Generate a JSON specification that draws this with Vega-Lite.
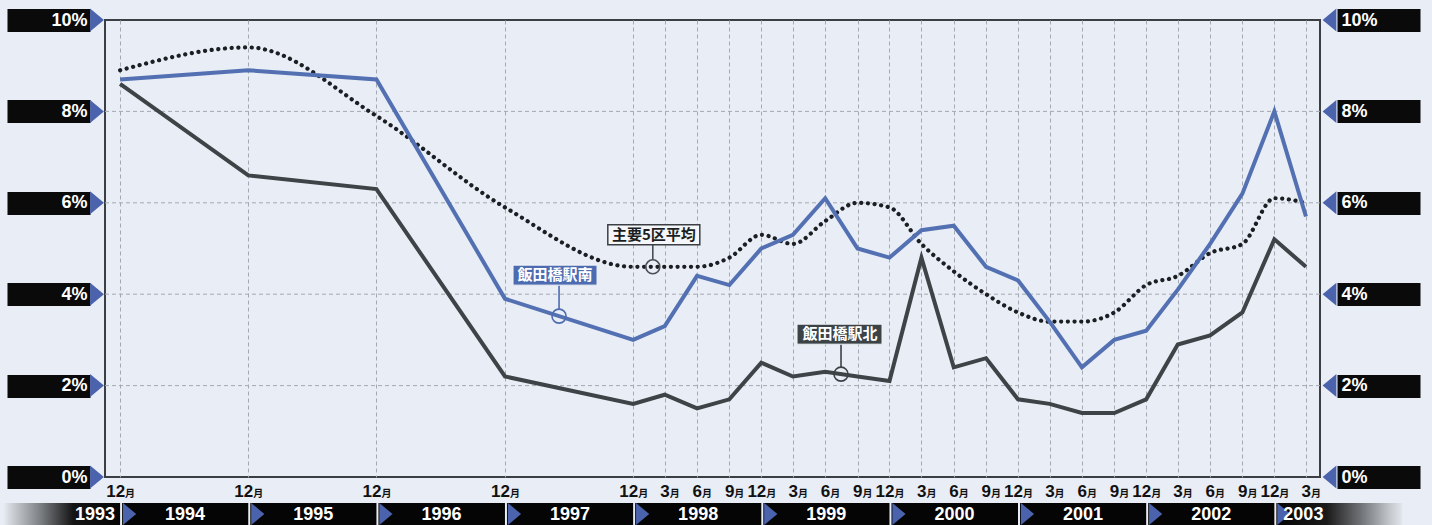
{
  "$schema": "https://vega.github.io/schema/vega-lite/v6.json",
  "width": 1215,
  "height": 457,
  "autosize": {"type": "none"},
  "padding": {"left": 105, "top": 20, "right": 112, "bottom": 48},
  "background": "#e9edf5",
  "config": {
    "font": "Liberation Sans",
    "view": {"stroke": "#3b3f44", "strokeWidth": 2}
  },
  "datasets": {
    "vacancy": [
      {"date": "1993-12-01", "m": 12, "south": 8.7, "north": 8.6, "avg5": 8.9},
      {"date": "1994-12-01", "m": 12, "south": 8.9, "north": 6.6, "avg5": 9.4},
      {"date": "1995-12-01", "m": 12, "south": 8.7, "north": 6.3, "avg5": 7.9},
      {"date": "1996-12-01", "m": 12, "south": 3.9, "north": 2.2, "avg5": 5.9},
      {"date": "1997-12-01", "m": 12, "south": 3.0, "north": 1.6, "avg5": 4.6},
      {"date": "1998-03-01", "m": 3, "south": 3.3, "north": 1.8, "avg5": 4.6},
      {"date": "1998-06-01", "m": 6, "south": 4.4, "north": 1.5, "avg5": 4.6},
      {"date": "1998-09-01", "m": 9, "south": 4.2, "north": 1.7, "avg5": 4.8},
      {"date": "1998-12-01", "m": 12, "south": 5.0, "north": 2.5, "avg5": 5.3},
      {"date": "1999-03-01", "m": 3, "south": 5.3, "north": 2.2, "avg5": 5.1},
      {"date": "1999-06-01", "m": 6, "south": 6.1, "north": 2.3, "avg5": 5.6},
      {"date": "1999-09-01", "m": 9, "south": 5.0, "north": 2.2, "avg5": 6.0},
      {"date": "1999-12-01", "m": 12, "south": 4.8, "north": 2.1, "avg5": 5.9},
      {"date": "2000-03-01", "m": 3, "south": 5.4, "north": 4.8, "avg5": 5.1},
      {"date": "2000-06-01", "m": 6, "south": 5.5, "north": 2.4, "avg5": 4.5},
      {"date": "2000-09-01", "m": 9, "south": 4.6, "north": 2.6, "avg5": 4.0},
      {"date": "2000-12-01", "m": 12, "south": 4.3, "north": 1.7, "avg5": 3.6},
      {"date": "2001-03-01", "m": 3, "south": 3.4, "north": 1.6, "avg5": 3.4},
      {"date": "2001-06-01", "m": 6, "south": 2.4, "north": 1.4, "avg5": 3.4},
      {"date": "2001-09-01", "m": 9, "south": 3.0, "north": 1.4, "avg5": 3.6},
      {"date": "2001-12-01", "m": 12, "south": 3.2, "north": 1.7, "avg5": 4.2},
      {"date": "2002-03-01", "m": 3, "south": 4.1, "north": 2.9, "avg5": 4.4},
      {"date": "2002-06-01", "m": 6, "south": 5.1, "north": 3.1, "avg5": 4.9},
      {"date": "2002-09-01", "m": 9, "south": 6.2, "north": 3.6, "avg5": 5.1},
      {"date": "2002-12-01", "m": 12, "south": 8.0, "north": 5.2, "avg5": 6.1},
      {"date": "2003-03-01", "m": 3, "south": 5.7, "north": 4.6, "avg5": 6.0}
    ],
    "ticks": [{"v": 0}, {"v": 2}, {"v": 4}, {"v": 6}, {"v": 8}, {"v": 10}],
    "years": [
      {"year": "1993", "start": "1993-01-01", "end": "1993-12-01"},
      {"year": "1994", "start": "1993-12-01", "end": "1994-12-01"},
      {"year": "1995", "start": "1994-12-01", "end": "1995-12-01"},
      {"year": "1996", "start": "1995-12-01", "end": "1996-12-01"},
      {"year": "1997", "start": "1996-12-01", "end": "1997-12-01"},
      {"year": "1998", "start": "1997-12-01", "end": "1998-12-01"},
      {"year": "1999", "start": "1998-12-01", "end": "1999-12-01"},
      {"year": "2000", "start": "1999-12-01", "end": "2000-12-01"},
      {"year": "2001", "start": "2000-12-01", "end": "2001-12-01"},
      {"year": "2002", "start": "2001-12-01", "end": "2002-12-01"},
      {"year": "2003", "start": "2002-12-01", "end": "2003-12-01"}
    ],
    "callouts": [
      {"label": "飯田橋駅南", "date": "1997-05-04", "value": 3.52},
      {"label": "主要5区平均", "date": "1998-01-26", "value": 4.6},
      {"label": "飯田橋駅北", "date": "1999-07-16", "value": 2.25}
    ]
  },
  "resolve": {"axis": {"y": "independent"}},
  "layer": [
    {
      "data": {"name": "ticks"},
      "transform": [{"filter": "datum.v > 0 && datum.v < 10"}],
      "mark": {"type": "rule", "color": "#a4a9b2", "strokeWidth": 1, "strokeDash": [4, 3]},
      "encoding": {
        "y": {"field": "v", "type": "quantitative", "scale": {"domain": [0, 10], "nice": false, "zero": true}, "axis": null}
      }
    },
    {
      "data": {"name": "vacancy"},
      "mark": {"type": "line", "color": "#1b1f23", "strokeWidth": 4.2, "strokeDash": [0.1, 6.6], "strokeCap": "round", "interpolate": "monotone"},
      "encoding": {
        "x": {
          "field": "date", "type": "temporal",
          "scale": {"type": "utc", "domain": [{"year": 1993, "month": 10, "date": 19, "utc": true}, {"year": 2003, "month": 4, "date": 10, "utc": true}]},
          "axis": {
            "title": null, "labels": false, "ticks": false, "domain": false,
            "grid": true, "gridColor": "#a4a9b2", "gridDash": [4, 3], "gridWidth": 1,
            "values": [
              {"year": 1993, "month": 12, "date": 1, "utc": true},
              {"year": 1994, "month": 12, "date": 1, "utc": true},
              {"year": 1995, "month": 12, "date": 1, "utc": true},
              {"year": 1996, "month": 12, "date": 1, "utc": true},
              {"year": 1997, "month": 12, "date": 1, "utc": true},
              {"year": 1998, "month": 3, "date": 1, "utc": true},
              {"year": 1998, "month": 6, "date": 1, "utc": true},
              {"year": 1998, "month": 9, "date": 1, "utc": true},
              {"year": 1998, "month": 12, "date": 1, "utc": true},
              {"year": 1999, "month": 3, "date": 1, "utc": true},
              {"year": 1999, "month": 6, "date": 1, "utc": true},
              {"year": 1999, "month": 9, "date": 1, "utc": true},
              {"year": 1999, "month": 12, "date": 1, "utc": true},
              {"year": 2000, "month": 3, "date": 1, "utc": true},
              {"year": 2000, "month": 6, "date": 1, "utc": true},
              {"year": 2000, "month": 9, "date": 1, "utc": true},
              {"year": 2000, "month": 12, "date": 1, "utc": true},
              {"year": 2001, "month": 3, "date": 1, "utc": true},
              {"year": 2001, "month": 6, "date": 1, "utc": true},
              {"year": 2001, "month": 9, "date": 1, "utc": true},
              {"year": 2001, "month": 12, "date": 1, "utc": true},
              {"year": 2002, "month": 3, "date": 1, "utc": true},
              {"year": 2002, "month": 6, "date": 1, "utc": true},
              {"year": 2002, "month": 9, "date": 1, "utc": true},
              {"year": 2002, "month": 12, "date": 1, "utc": true},
              {"year": 2003, "month": 3, "date": 1, "utc": true}
            ]
          }
        },
        "y": {"field": "avg5", "type": "quantitative", "axis": null}
      }
    },
    {
      "data": {"name": "vacancy"},
      "mark": {"type": "line", "color": "#3d4346", "strokeWidth": 4, "strokeJoin": "miter"},
      "encoding": {
        "x": {"field": "date", "type": "temporal"},
        "y": {"field": "north", "type": "quantitative", "axis": null}
      }
    },
    {
      "data": {"name": "vacancy"},
      "mark": {"type": "line", "color": "#5270b2", "strokeWidth": 4, "strokeJoin": "miter"},
      "encoding": {
        "x": {"field": "date", "type": "temporal"},
        "y": {"field": "south", "type": "quantitative", "axis": null}
      }
    },
    {
      "data": {"name": "ticks"},
      "mark": {"type": "point", "shape": "M-0.6,-1L0.6,0L-0.6,1Z", "size": 529, "filled": true, "opacity": 1, "color": "#4b63ad", "xOffset": -8},
      "encoding": {
        "x": {"datum": {"year": 1993, "month": 10, "date": 19, "utc": true}, "type": "temporal"},
        "y": {
          "field": "v", "type": "quantitative",
          "axis": {
            "orient": "left", "values": [0, 2, 4, 6, 8, 10], "offset": 15, "title": null,
            "domain": false, "grid": false, "ticks": true, "tickSize": 83, "tickWidth": 23, "tickColor": "#0a0a0a",
            "labelColor": "#ffffff", "labelFont": "Liberation Sans", "labelFontWeight": "bold", "labelFontSize": 18,
            "labelPadding": -80, "labelBaseline": "middle", "labelExpr": "datum.value + '%'"
          }
        }
      }
    },
    {
      "data": {"name": "ticks"},
      "mark": {"type": "point", "shape": "M0.6,-1L-0.6,0L0.6,1Z", "size": 529, "filled": true, "opacity": 1, "color": "#4b63ad", "xOffset": 9.5},
      "encoding": {
        "x": {"datum": {"year": 2003, "month": 4, "date": 10, "utc": true}, "type": "temporal"},
        "y": {
          "field": "v", "type": "quantitative",
          "axis": {
            "orient": "right", "values": [0, 2, 4, 6, 8, 10], "offset": 17, "title": null,
            "domain": false, "grid": false, "ticks": true, "tickSize": 83, "tickWidth": 23, "tickColor": "#0a0a0a",
            "labelColor": "#ffffff", "labelFont": "Liberation Sans", "labelFontWeight": "bold", "labelFontSize": 18,
            "labelPadding": -79, "labelBaseline": "middle", "labelExpr": "datum.value + '%'"
          }
        }
      }
    },
    {
      "data": {"name": "vacancy"},
      "mark": {"type": "text", "align": "right", "baseline": "alphabetic", "dx": 5, "dy": 20, "fontSize": 17, "fontWeight": "bold", "color": "#111111"},
      "encoding": {
        "x": {"field": "date", "type": "temporal"},
        "y": {"datum": 0, "type": "quantitative", "axis": null},
        "text": {"field": "m", "type": "quantitative"}
      }
    },
    {
      "data": {"name": "vacancy"},
      "mark": {"type": "text", "align": "left", "baseline": "alphabetic", "dx": 5, "dy": 20, "fontSize": 10, "fontWeight": "bold", "font": "Noto Sans CJK JP", "color": "#111111"},
      "encoding": {
        "x": {"field": "date", "type": "temporal"},
        "y": {"datum": 0, "type": "quantitative", "axis": null},
        "text": {"value": "月"}
      }
    },
    {
      "data": {"name": "years"},
      "transform": [{"filter": "datum.year !== '1993' && datum.year !== '2003'"}],
      "mark": {"type": "rect", "fill": "#050505", "xOffset": 2, "yOffset": 26, "y2Offset": 50},
      "encoding": {
        "x": {"field": "start", "type": "temporal"},
        "x2": {"field": "end"},
        "y": {"datum": 0, "type": "quantitative", "axis": null},
        "y2": {"datum": 0}
      }
    },
    {
      "data": {"name": "years"},
      "transform": [{"filter": "datum.year === '1993'"}],
      "mark": {
        "type": "rect", "yOffset": 26, "y2Offset": 50,
        "fill": {"gradient": "linear", "x1": 0, "y1": 0, "x2": 1, "y2": 0,
          "stops": [
            {"offset": 0, "color": "#e9edf5"},
            {"offset": 0.1, "color": "#c6c9cd"},
            {"offset": 0.32, "color": "#7c7f83"},
            {"offset": 0.6, "color": "#141414"},
            {"offset": 1, "color": "#050505"}
          ]}
      },
      "encoding": {
        "x": {"field": "start", "type": "temporal"},
        "x2": {"field": "end"},
        "y": {"datum": 0, "type": "quantitative", "axis": null},
        "y2": {"datum": 0}
      }
    },
    {
      "data": {"name": "years"},
      "transform": [{"filter": "datum.year === '2003'"}],
      "mark": {
        "type": "rect", "xOffset": 2, "yOffset": 26, "y2Offset": 50,
        "fill": {"gradient": "linear", "x1": 0, "y1": 0, "x2": 1, "y2": 0,
          "stops": [
            {"offset": 0, "color": "#050505"},
            {"offset": 0.4, "color": "#1a1a1a"},
            {"offset": 0.7, "color": "#7a7d81"},
            {"offset": 0.9, "color": "#c4c7cc"},
            {"offset": 1, "color": "#e3e7ee"}
          ]}
      },
      "encoding": {
        "x": {"field": "start", "type": "temporal"},
        "x2": {"field": "end"},
        "y": {"datum": 0, "type": "quantitative", "axis": null},
        "y2": {"datum": 0}
      }
    },
    {
      "data": {"name": "years"},
      "transform": [{"filter": "datum.year !== '1993'"}],
      "mark": {"type": "point", "shape": "M-0.6,-1L0.6,0L-0.6,1Z", "size": 484, "filled": true, "opacity": 1, "color": "#4b63ad", "xOffset": 9.5, "yOffset": 37},
      "encoding": {
        "x": {"field": "start", "type": "temporal"},
        "y": {"datum": 0, "type": "quantitative", "axis": null}
      }
    },
    {
      "data": {"name": "years"},
      "transform": [{"filter": "datum.year !== '1993' && datum.year !== '2003'"}],
      "mark": {"type": "text", "align": "center", "baseline": "middle", "dx": 65, "dy": 38, "fontSize": 18, "fontWeight": "bold", "color": "#ffffff"},
      "encoding": {
        "x": {"field": "start", "type": "temporal"},
        "y": {"datum": 0, "type": "quantitative", "axis": null},
        "text": {"field": "year"}
      }
    },
    {
      "data": {"name": "years"},
      "transform": [{"filter": "datum.year === '1993'"}],
      "mark": {"type": "text", "align": "right", "baseline": "middle", "dx": -5, "dy": 38, "fontSize": 18, "fontWeight": "bold", "color": "#ffffff"},
      "encoding": {
        "x": {"field": "end", "type": "temporal"},
        "y": {"datum": 0, "type": "quantitative", "axis": null},
        "text": {"field": "year"}
      }
    },
    {
      "data": {"name": "years"},
      "transform": [{"filter": "datum.year === '2003'"}],
      "mark": {"type": "text", "align": "left", "baseline": "middle", "dx": 9, "dy": 38, "fontSize": 18, "fontWeight": "bold", "color": "#ffffff"},
      "encoding": {
        "x": {"field": "start", "type": "temporal"},
        "y": {"datum": 0, "type": "quantitative", "axis": null},
        "text": {"field": "year"}
      }
    },
    {
      "data": {"name": "callouts"},
      "transform": [{"filter": "datum.label === '飯田橋駅南'"}],
      "encoding": {
        "x": {"field": "date", "type": "temporal"},
        "y": {"field": "value", "type": "quantitative", "axis": null}
      },
      "layer": [
        {"mark": {"type": "rule", "color": "#4d6bb0", "strokeWidth": 1.6, "yOffset": -7, "y2Offset": -31}, "encoding": {"y2": {"field": "value"}}},
        {"mark": {"type": "point", "shape": "circle", "size": 196, "filled": false, "opacity": 1, "color": "#4d6bb0", "strokeWidth": 1.6}},
        {"mark": {"type": "rect", "fill": "#4d6bb0", "stroke": "#f2f4f8", "strokeWidth": 1, "xOffset": -46, "x2Offset": 38, "yOffset": -51, "y2Offset": -31}, "encoding": {"x2": {"field": "date"}, "y2": {"field": "value"}}},
        {"mark": {"type": "text", "font": "Noto Sans CJK JP", "fontWeight": "bold", "fontSize": 15, "color": "#ffffff", "align": "center", "baseline": "middle", "dx": -4, "dy": -41}, "encoding": {"text": {"field": "label"}}}
      ]
    },
    {
      "data": {"name": "callouts"},
      "transform": [{"filter": "datum.label === '主要5区平均'"}],
      "encoding": {
        "x": {"field": "date", "type": "temporal"},
        "y": {"field": "value", "type": "quantitative", "axis": null}
      },
      "layer": [
        {"mark": {"type": "rule", "color": "#4a4f54", "strokeWidth": 1.6, "yOffset": -7, "y2Offset": -22}, "encoding": {"y2": {"field": "value"}}},
        {"mark": {"type": "point", "shape": "circle", "size": 196, "filled": false, "opacity": 1, "color": "#4a4f54", "strokeWidth": 1.6}},
        {"mark": {"type": "rect", "fill": "#f4f6f9", "stroke": "#3b3f44", "strokeWidth": 1.5, "xOffset": -45, "x2Offset": 47, "yOffset": -42, "y2Offset": -22}, "encoding": {"x2": {"field": "date"}, "y2": {"field": "value"}}},
        {"mark": {"type": "text", "font": "Noto Sans CJK JP", "fontWeight": "bold", "fontSize": 15, "color": "#1c1f22", "align": "center", "baseline": "middle", "dx": 1, "dy": -32}, "encoding": {"text": {"field": "label"}}}
      ]
    },
    {
      "data": {"name": "callouts"},
      "transform": [{"filter": "datum.label === '飯田橋駅北'"}],
      "encoding": {
        "x": {"field": "date", "type": "temporal"},
        "y": {"field": "value", "type": "quantitative", "axis": null}
      },
      "layer": [
        {"mark": {"type": "rule", "color": "#3b4245", "strokeWidth": 1.6, "yOffset": -7, "y2Offset": -30}, "encoding": {"y2": {"field": "value"}}},
        {"mark": {"type": "point", "shape": "circle", "size": 196, "filled": false, "opacity": 1, "color": "#3b4245", "strokeWidth": 1.6}},
        {"mark": {"type": "rect", "fill": "#3b4346", "stroke": "#f2f4f8", "strokeWidth": 1, "xOffset": -44, "x2Offset": 41, "yOffset": -50, "y2Offset": -30}, "encoding": {"x2": {"field": "date"}, "y2": {"field": "value"}}},
        {"mark": {"type": "text", "font": "Noto Sans CJK JP", "fontWeight": "bold", "fontSize": 15, "color": "#ffffff", "align": "center", "baseline": "middle", "dx": -1, "dy": -40}, "encoding": {"text": {"field": "label"}}}
      ]
    }
  ]
}
